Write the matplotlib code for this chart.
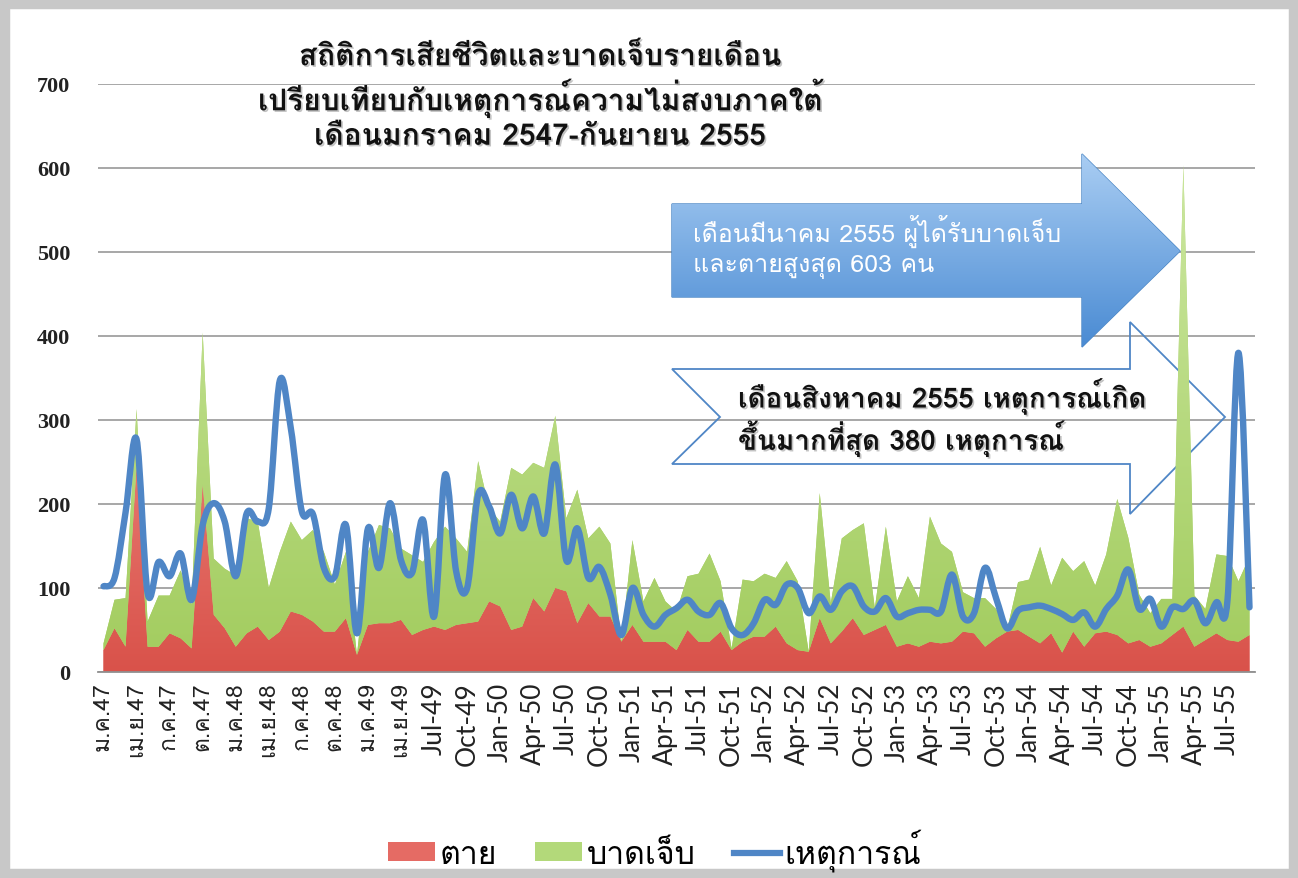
import numpy as np
import matplotlib
matplotlib.use("Agg")
import matplotlib.pyplot as plt
import matplotlib.patheffects as pe
from matplotlib import font_manager
from matplotlib.ft2font import FT2Font
from matplotlib.path import Path
from matplotlib.patches import PathPatch, Polygon, Patch, Rectangle
from matplotlib.lines import Line2D
from matplotlib.colors import LinearSegmentedColormap
from matplotlib.transforms import Affine2D

# monthly data, Jan 2547 - Sep 2555 (105 months)
dead = [26, 52, 30, 245, 30, 30, 46, 40, 28, 223, 68, 52, 30, 46, 54, 38, 48, 72, 68, 60,
        48, 48, 64, 20, 56, 58, 58, 62, 44, 50, 54, 50, 56, 58, 60, 84, 78, 50, 54, 88,
        72, 100, 96, 58, 82, 66, 66, 36, 56, 36, 36, 36, 26, 50, 36, 36, 48, 26, 36, 42,
        42, 54, 34, 26, 24, 64, 34, 48, 64, 44, 50, 56, 30, 34, 30, 36, 34, 36, 48, 46,
        30, 40, 48, 50, 42, 34, 46, 23, 48, 30, 46, 48, 44, 34, 38, 30, 34, 44, 54, 30,
        38, 46, 38, 36, 44]
injured = [8, 34, 58, 68, 30, 61, 45, 81, 52, 181, 67, 71, 85, 137, 125, 62, 95, 107, 89, 109,
           95, 56, 79, 0, 87, 117, 113, 85, 95, 81, 101, 123, 103, 85, 191, 111, 101, 193, 181, 161,
           171, 205, 87, 159, 77, 107, 87, 0, 101, 48, 76, 48, 46, 64, 81, 105, 60, 2, 74, 66,
           75, 58, 98, 82, 0, 149, 48, 111, 105, 133, 26, 117, 54, 80, 58, 149, 119, 107, 47, 42,
           58, 35, 2, 57, 68, 115, 57, 113, 72, 102, 57, 92, 162, 126, 54, 40, 53, 43, 549, 61,
           37, 94, 100, 72, 93]
incidents = [102, 112, 190, 277, 94, 131, 114, 141, 86, 175, 201, 179, 114, 189, 179, 195, 347, 290, 191, 188,
             124, 114, 175, 46, 171, 124, 201, 133, 118, 181, 66, 235, 120, 100, 211, 197, 165, 211, 171, 209,
             165, 247, 133, 171, 112, 125, 92, 44, 100, 68, 54, 68, 76, 86, 72, 68, 82, 52, 44, 58,
             86, 80, 104, 100, 70, 90, 74, 96, 102, 78, 72, 88, 66, 70, 74, 74, 72, 116, 66, 70,
             124, 88, 52, 73, 77, 79, 75, 69, 62, 71, 54, 75, 91, 122, 75, 87, 54, 77, 75, 85,
             58, 83, 85, 380, 77]
tick_labels = ['ม.ค.47', 'เม.ย.47', 'ก.ค.47', 'ต.ค.47', 'ม.ค.48', 'เม.ย.48', 'ก.ค.48', 'ต.ค.48',
               'ม.ค.49', 'เม.ย.49', 'Jul-49', 'Oct-49', 'Jan-50', 'Apr-50', 'Jul-50', 'Oct-50',
               'Jan-51', 'Apr-51', 'Jul-51', 'Oct-51', 'Jan-52', 'Apr-52', 'Jul-52', 'Oct-52',
               'Jan-53', 'Apr-53', 'Jul-53', 'Oct-53', 'Jan-54', 'Apr-54', 'Jul-54', 'Oct-54',
               'Jan-55', 'Apr-55', 'Jul-55']
series_names = ['ตาย', 'บาดเจ็บ', 'เหตุการณ์']
title = 'สถิติการเสียชีวิตและบาดเจ็บรายเดือน\nเปรียบเทียบกับเหตุการณ์ความไม่สงบภาคใต้\nเดือนมกราคม 2547-กันยายน 2555'
note1 = 'เดือนมีนาคม 2555 ผู้ได้รับบาดเจ็บ\nและตายสูงสุด 603 คน'
note2 = 'เดือนสิงหาคม 2555 เหตุการณ์เกิด\nขึ้นมากที่สุด 380 เหตุการณ์'


def find_thai_font():
    # pick an installed font that has Thai glyphs
    for f in font_manager.fontManager.ttflist:
        try:
            if 0x0E2A in FT2Font(f.fname).get_charmap():
                return f.name
        except Exception:
            pass
    return 'DejaVu Sans'


thai = find_thai_font()
plt.rcParams['font.family'] = [thai, 'DejaVu Sans']


def smooth_path(x, y):
    # bezier curve through the points, like excel "smoothed line"
    verts = [(x[0], y[0])]
    codes = [Path.MOVETO]
    n = len(x)
    for i in range(n - 1):
        xa, ya = (x[i - 1], y[i - 1]) if i > 0 else (x[i], y[i])
        xb, yb = (x[i + 2], y[i + 2]) if i + 2 < n else (x[i + 1], y[i + 1])
        verts.append((x[i] + (x[i + 1] - xa) / 6, y[i] + (y[i + 1] - ya) / 6))
        verts.append((x[i + 1] - (xb - x[i]) / 6, y[i + 1] - (yb - y[i]) / 6))
        verts.append((x[i + 1], y[i + 1]))
        codes += [Path.CURVE4] * 3
    return Path(verts, codes)


W, H = 1298, 879
fig = plt.figure(figsize=(W / 100, H / 100), dpi=100)
ax = fig.add_axes([98 / W, 1 - 673 / H, (1255 - 98) / W, (673 - 85) / H])
# pixel coordinates (origin top left) for the callouts
px = Affine2D().scale(1 / W, -1 / H).translate(0, 1) + fig.transFigure

x = np.arange(len(dead))
red = '#E0574F'
green = '#A9D066'
blue = '#4F86C6'
polys = ax.stackplot(x, dead, injured, colors=[red, green], linewidth=0, zorder=2)
xmin, xmax = -0.5, len(dead) - 0.5

# soft vertical gradient inside each area, like the excel fills
grad = np.linspace(0, 1, 256).reshape(-1, 1)
fills = [('#D9524A', '#F08F88', 420), ('#A2CC5E', '#CDE8A2', 620)]
for coll, (c0, c1, top) in zip(polys, fills):
    cm = LinearSegmentedColormap.from_list('f', [c0, c1])
    im = ax.imshow(grad, cmap=cm, origin='lower', extent=[xmin, xmax, 0, top],
                   aspect='auto', zorder=2)
    im.set_clip_path(coll.get_paths()[0], ax.transData)
ax.add_patch(PathPatch(smooth_path(x, incidents), fill=False, edgecolor=blue, lw=4.6,
                       capstyle='round', joinstyle='round', zorder=3))

# outlined notched arrow sits behind the areas
arrow2 = Polygon([(672, 370), (1130, 370), (1130, 323), (1225, 418), (1130, 515), (1130, 465),
                  (672, 465), (720, 418)], closed=True, fill=False,
                 edgecolor='#4F86C6', lw=1.3, zorder=1.5, transform=px, clip_on=False)
ax.add_patch(arrow2)

ax.set_xlim(xmin, xmax)
ax.set_ylim(0, 700)
ax.set_yticks(range(0, 701, 100))
ax.set_yticklabels([str(v) for v in range(0, 701, 100)], family='Liberation Serif',
                   fontsize=16, fontweight='bold', color='#222222')
ax.set_xticks(x[::3])
ax.set_xticklabels(tick_labels, rotation=90, fontsize=19, color='#222222',
                   family=['Lato', thai, 'DejaVu Sans'])
for t in ax.get_xticklabels():
    if any('\u0e00' <= c <= '\u0e7f' for c in t.get_text()):
        t.set_fontsize(16.5)
        t.set_family([thai, 'DejaVu Sans'])
ax.tick_params(axis='both', length=0)
ax.tick_params(axis='y', pad=20)
ax.tick_params(axis='x', pad=7)
ax.grid(axis='y', color='#A0A0A0', lw=1.3, zorder=1)
ax.set_axisbelow(True)
for s in ['left', 'right', 'top']:
    ax.spines[s].set_visible(False)
ax.spines['bottom'].set_color('#909090')
ax.spines['bottom'].set_linewidth(1.3)

# overlay in pixel coordinates for title, blue arrow and notes
ov = fig.add_axes([0, 0, 1, 1], zorder=5)
ov.set_xlim(0, W)
ov.set_ylim(H, 0)
ov.axis('off')
ov.patch.set_alpha(0)

shadow = [pe.withSimplePatchShadow(offset=(1.2, -1.2), shadow_rgbFace='#888888', alpha=0.5)]
ov.text(540, 98, title, ha='center', va='center', fontsize=21.5, fontweight='bold',
        linespacing=1.22, color='#111111', path_effects=shadow)

# blue filled arrow with gradient
arrow1 = Polygon([(672, 205), (1082, 205), (1082, 155), (1180, 252), (1082, 348), (1082, 298), (672, 298)],
                 closed=True, facecolor='none', edgecolor='#4A86C5', lw=1)
ov.add_patch(arrow1)
cmap = LinearSegmentedColormap.from_list('g', ['#A9CDF3', '#4A8BD3'])
img = ov.imshow(grad, cmap=cmap, extent=[672, 1180, 348, 155], aspect='auto', zorder=1)
img.set_clip_path(arrow1)
ov.text(693, 247, note1, ha='left', va='center', fontsize=18, color='white', linespacing=1.3, zorder=2)

ov.text(738, 418, note2, ha='left', va='center', fontsize=20, fontweight='bold', color='#111111',
        linespacing=1.15, zorder=2, path_effects=shadow)

# legend
handles = [Patch(facecolor='#E56B64', edgecolor='none'), Patch(facecolor='#B3D97A', edgecolor='none'),
           Line2D([0], [0], color=blue, lw=4.5)]
fig.legend(handles, series_names, loc='center', bbox_to_anchor=(655 / W, 1 - 851 / H), ncol=3,
           frameon=False, fontsize=23, handlelength=1.45, handleheight=0.5, handletextpad=0.15,
           columnspacing=1.2)

# gray frame around the picture
fig.add_artist(Rectangle((0, 0), 1, 1, transform=fig.transFigure, fill=False,
                         edgecolor='#C8C8C8', lw=14))

fig.savefig('out.png', dpi=100)
